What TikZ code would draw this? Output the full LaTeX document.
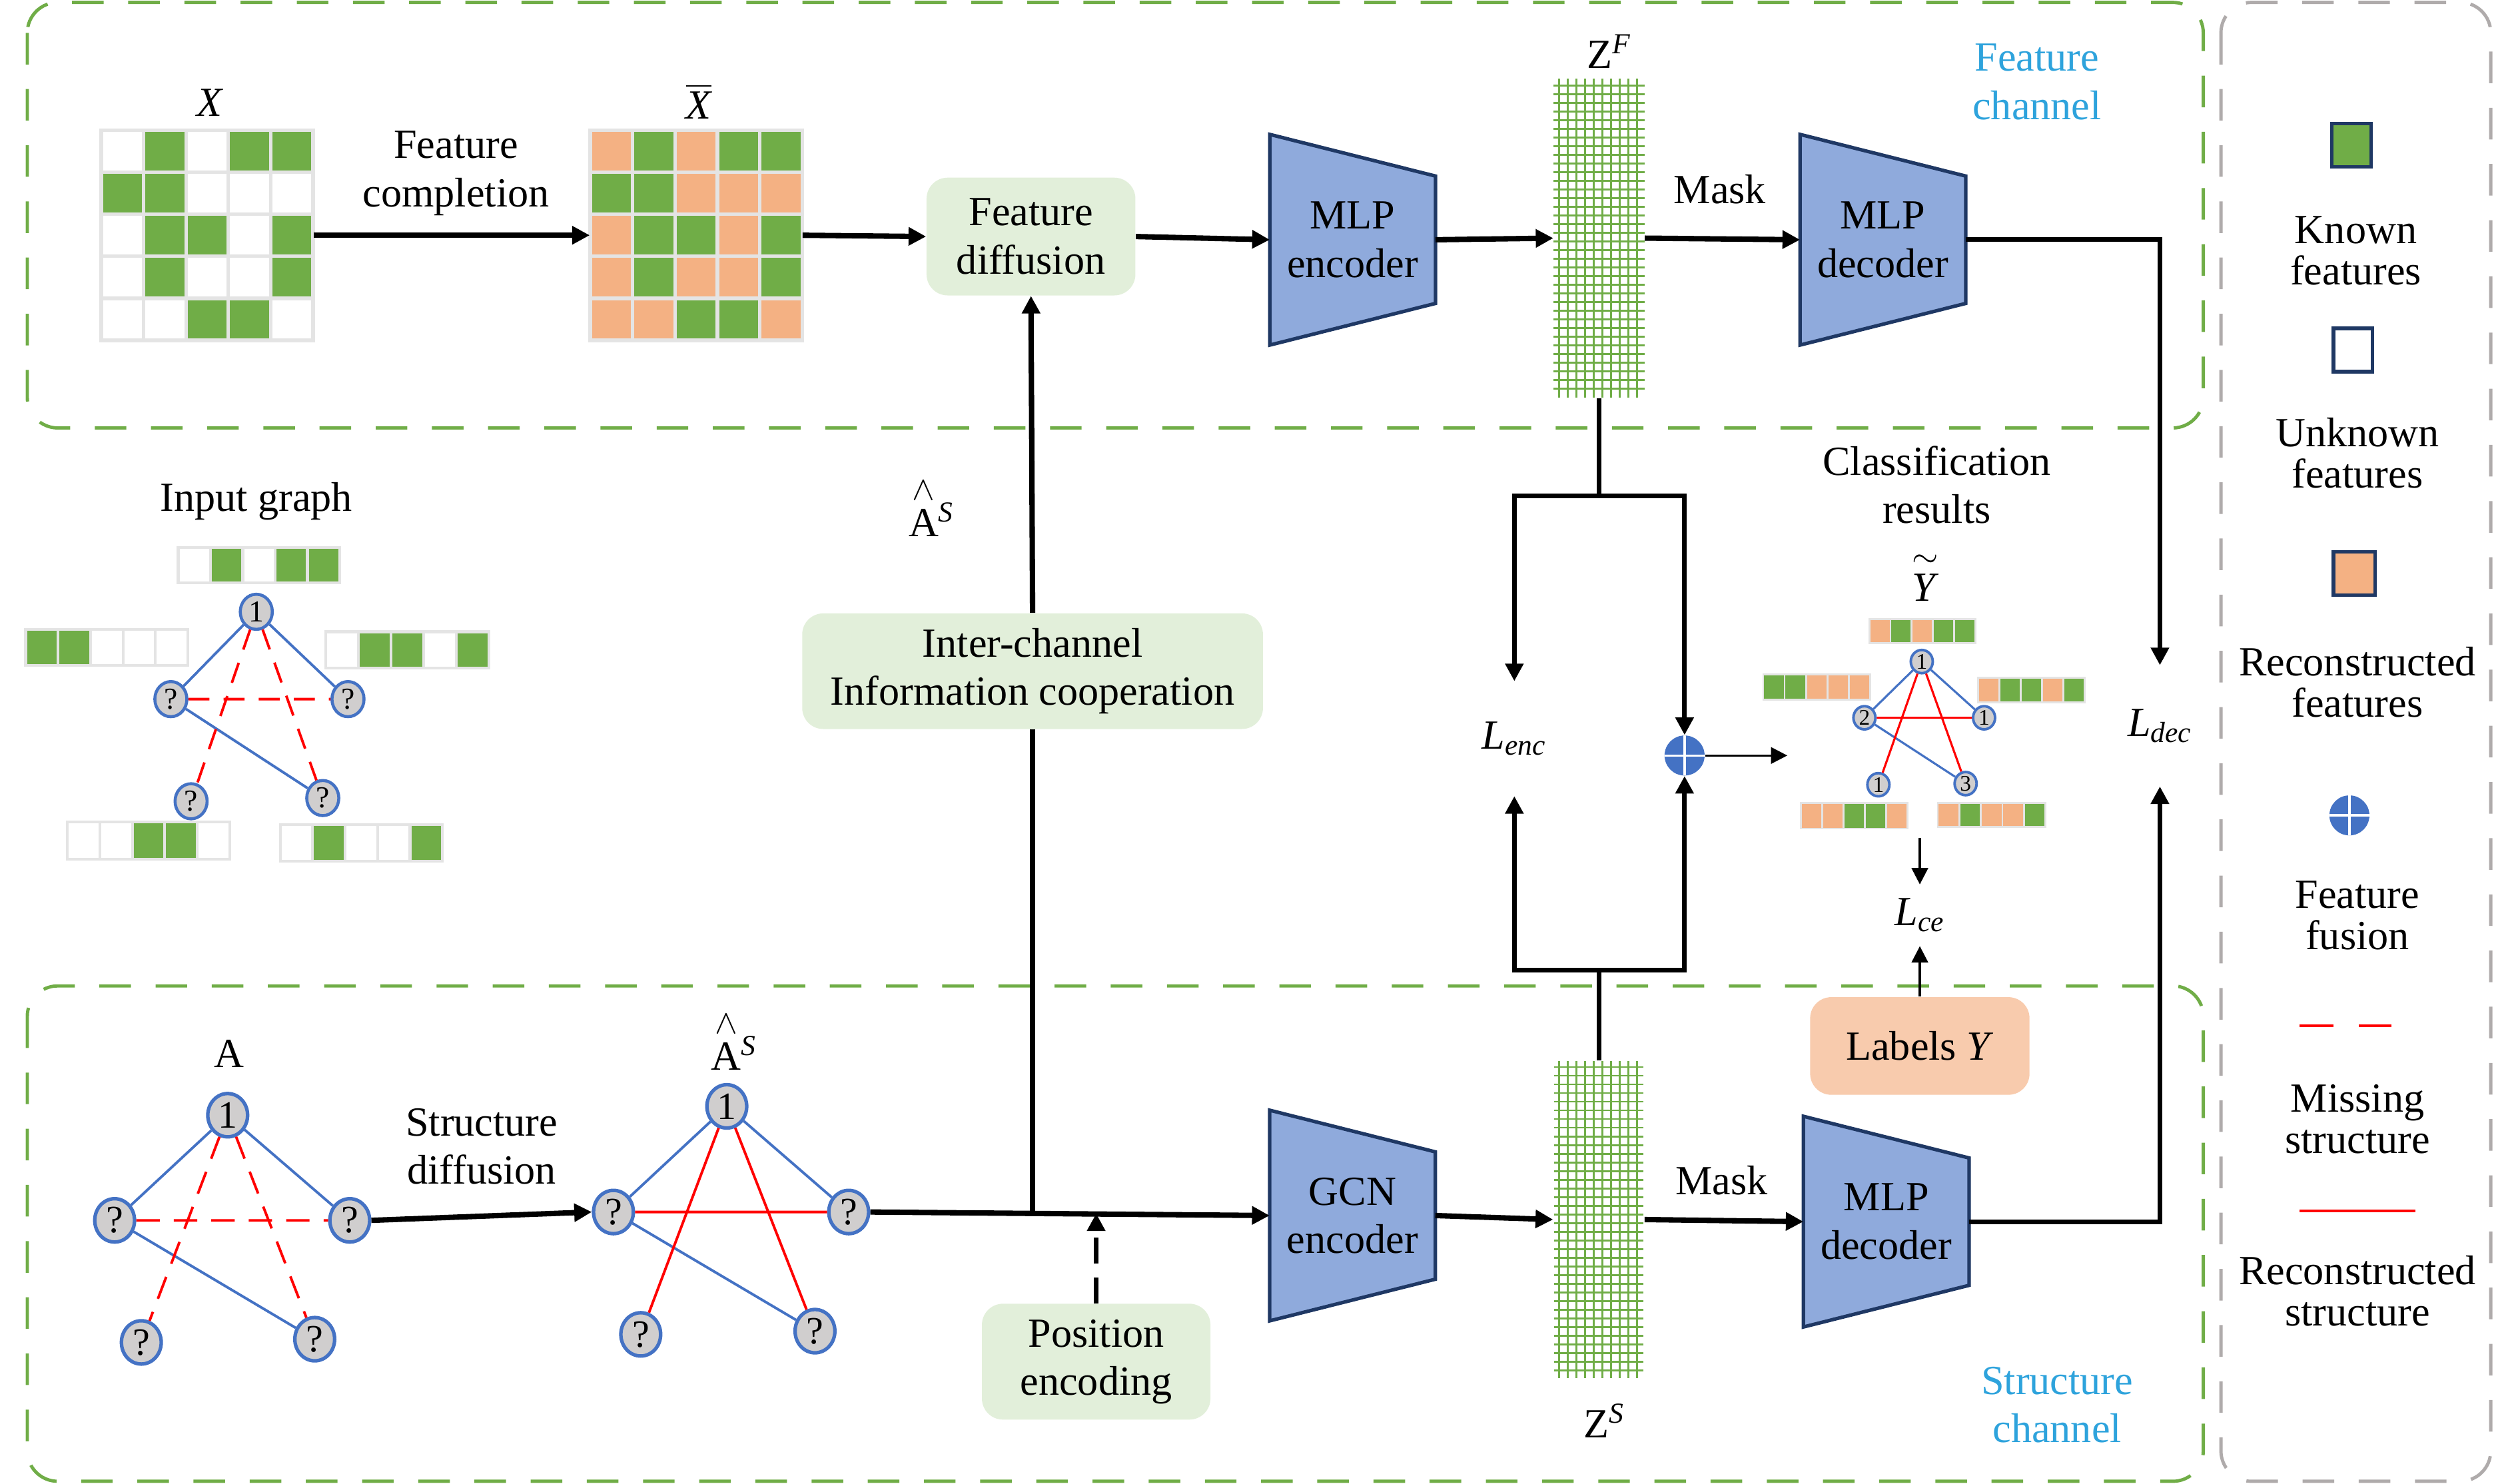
\documentclass[tikz,border=0pt]{standalone}
\usepackage{amsmath}
\usepackage{fontspec}
\setmainfont{Liberation Serif}
\usetikzlibrary{arrows.meta,backgrounds,positioning,shapes.geometric}

\definecolor{frgreen}{HTML}{70AD47}
\definecolor{leggray}{HTML}{AFABAB}
\definecolor{cellg}{HTML}{70AD47}
\definecolor{cello}{HTML}{F4B183}
\definecolor{cellw}{HTML}{FFFFFF}
\definecolor{cellline}{HTML}{E4E4E4}
\definecolor{trapfill}{HTML}{8FAADC}
\definecolor{trapline}{HTML}{1F3864}
\definecolor{boxgreen}{HTML}{E2EFDA}
\definecolor{boxorange}{HTML}{F8CBAD}
\definecolor{nodegray}{HTML}{D0CECE}
\definecolor{edgeblue}{HTML}{4472C4}
\definecolor{edgered}{HTML}{FF0000}
\definecolor{chancyan}{HTML}{2EA3DC}

% one row of feature cells: [line width]{x}{y}{cell w}{cell h}{colours}
\newcommand{\cellrow}[6][1.2pt]{%
  \foreach \cl [count=\ci from 0] in {#6}
    \draw[draw=cellline, line width=#1, fill=cell\cl] ({#2+\ci*#4},#3) rectangle ++(#4,#5);
}
% accent set apart above a letter
\newcommand{\hatA}{\shortstack{{\fontsize{14}{14}\selectfont$\wedge$}\\[1pt]A}\textsuperscript{\textit{S}}}
\newcommand{\tildeY}{\shortstack{{\fontsize{14}{14}\selectfont$\sim$}\\[0pt]\textit{Y}}}

\tikzset{
  chanframe/.style={draw=frgreen, line width=1.4pt, dash pattern=on 13.5pt off 10.5pt, rounded corners=13pt},
  legframe/.style={chanframe, draw=leggray},
  flowarrow/.style={line width=2.3pt, -{Triangle[length=7.5pt,width=7.5pt]}},
  flowline/.style={line width=2.3pt},
  looparrow/.style={line width=2pt, -{Triangle[length=7.5pt,width=7.5pt]}},
  loopline/.style={line width=2pt},
  thinarrow/.style={line width=0.9pt, -{Triangle[length=7pt,width=7pt]}},
  dasharrow/.style={line width=2pt, dash pattern=on 11pt off 6pt, -{Triangle[length=7.5pt,width=7.5pt]}},
  greenbox/.style={fill=boxgreen, rounded corners=9pt, inner sep=0pt},
  labelbox/.style={fill=boxorange, rounded corners=9pt, inner sep=0pt},
  trapnode/.style={minimum width=70.4pt, minimum height=89.6pt, inner sep=0pt},
  trapez/.style={fill=trapfill, draw=trapline, line width=1.5pt},
  matnode/.style={inner sep=0pt, minimum width=90.5pt, minimum height=89.8pt},
  zgridnode/.style={inner sep=0pt, minimum width=38.7pt, minimum height=136.2pt},
  zline/.style={draw=frgreen, line width=0.8pt},
  gnode/.style={ellipse, draw=edgeblue, fill=nodegray, inner sep=0pt},
  ignode/.style={gnode, line width=1.3pt, minimum width=13.7pt, minimum height=15pt, font=\fontsize{13}{13}\selectfont},
  anode/.style={gnode, line width=1.5pt, minimum width=17pt, minimum height=18.5pt, font=\fontsize{16.5}{16.5}\selectfont},
  cnode/.style={gnode, line width=1.1pt, minimum width=9.4pt, minimum height=9.9pt, font=\fontsize{9.5}{9.5}\selectfont},
  knownedge/.style={draw=edgeblue, line width=1.1pt},
  missedge/.style={draw=edgered, line width=1.1pt, dash pattern=on 9pt off 6pt},
  recedge/.style={draw=edgered, line width=1.1pt},
  fusion/.style={circle, fill=edgeblue, minimum size=17.1pt, inner sep=0pt,
    path picture={\draw[white, line width=1pt] (path picture bounding box.north) -- (path picture bounding box.south)
      (path picture bounding box.west) -- (path picture bounding box.east);}},
  lossnode/.style={inner sep=0pt},
  chantext/.style={text=chancyan},
  legtext/.style={font=\fontsize{17.7}{17.6}\selectfont},
  legbox/.style={draw=trapline, line width=1.5pt, minimum width=16.7pt, minimum height=18.5pt, inner sep=0pt},
}

\begin{document}
\begin{tikzpicture}[x=0.24107mm, y=-0.24107mm, every node/.style={font=\fontsize{17.7}{20.6}\selectfont, align=center}]
  \useasboundingbox (0,0) rectangle (1568,924);

  % frames
  \draw[chanframe] (17,1.5) rectangle (1372,266.5);
  \draw[chanframe] (17,614) rectangle (1372,922.5);
  \draw[legframe] (1383,1.5) rectangle (1551,922.5);

  % feature channel
  \node (xlab) at (131,64) {\textit{X}};
  \node[matnode] (xmat) at (129,146.5) {};
  \foreach \r/\pat in {0/{w,g,w,g,g},1/{g,g,w,w,w},2/{w,g,g,w,g},3/{w,g,w,w,g},4/{w,w,g,g,w}}
    \foreach \cl [count=\ci from 0] in \pat
      \draw[draw=cellline, line width=1.5pt, fill=cell\cl] ({63+\ci*26.4},{81+\r*26.2}) rectangle ++(26.4,26.2);
  \node (xbarlab) at (435,63) {$\overline{\textit{X}}$};
  \node[matnode] (xbar) at (433.5,146.5) {};
  \foreach \r/\pat in {0/{o,g,o,g,g},1/{g,g,o,o,o},2/{o,g,g,o,g},3/{o,g,o,o,g},4/{o,o,g,g,o}}
    \foreach \cl [count=\ci from 0] in \pat
      \draw[draw=cellline, line width=1.5pt, fill=cell\cl] ({367.5+\ci*26.4},{81+\r*26.2}) rectangle ++(26.4,26.2);
  \node (fclab) at (284,108) {Feature\\completion};
  \node[greenbox, minimum width=89.2pt, minimum height=50.3pt] (fdiff) at (642,147.3) {Feature\\diffusion};
  \node[trapnode] (mlpenc) at (842.3,149.3) {MLP\\encoder};
  \node[zgridnode] (zf) at (995.75,148.3) {};
  \foreach \i in {0,...,9} \draw[zline] ({970.7+\i*5.4},49) -- ++(0,198.6);
  \foreach \j in {0,...,35} \draw[zline] (967.5,{53.2+\j*5.4}) -- ++(56.5,0);
  \node (zflab) at (1002,32) {Z\textsuperscript{\textit{F}}};
  \node (mask1) at (1071,118) {Mask};
  \node[trapnode] (mlpdec) at (1172.5,149.3) {MLP\\decoder};
  \node[chantext] (fchan) at (1268.5,51) {Feature\\channel};

  % input graph
  \node (iglab) at (159.6,312) {Input graph};
  \cellrow{111}{341}{20.1}{22}{w,g,w,g,g}
  \cellrow{16}{392}{20.2}{22.5}{g,g,w,w,w}
  \cellrow{203}{393.4}{20.3}{22.6}{w,g,g,w,g}
  \cellrow{42}{512}{20.2}{23}{w,w,g,g,w}
  \cellrow{174.5}{513.6}{20.2}{22.8}{w,g,w,w,g}
  \node[ignode] (i1) at (159.6,381) {1};
  \node[ignode] (il) at (106.4,435.4) {?};
  \node[ignode] (ir) at (216.7,435.4) {?};
  \node[ignode] (ibl) at (119,499) {?};
  \node[ignode] (ibr) at (201,497) {?};
  \draw[knownedge] (i1) -- (il) (i1) -- (ir) (il) -- (ibr);
  \draw[missedge] (il) -- (ir) (i1) -- (ibl) (i1) -- (ibr);

  % inter-channel cooperation
  \node (hatlab) at (580,317) {\hatA};
  \node[greenbox, minimum width=196.8pt, minimum height=49.4pt] (ic) at (643,418) {Inter-channel\\Information cooperation};

  % losses and fusion
  \node[lossnode, minimum height=48.7pt] (lenc) at (943,460) {\textit{L}\textsubscript{\textit{enc}}};
  \node[fusion] (fuse) at (1049,470.5) {};
  \node[lossnode, minimum height=51.4pt] (ldec) at (1345,452) {\textit{L}\textsubscript{\textit{dec}}};
  \node[lossnode, minimum height=26pt] (lce) at (1195.5,570) {\textit{L}\textsubscript{\textit{ce}}};

  % classification results
  \node (clslab) at (1206,302) {Classification\\results};
  \node (ytlab) at (1199,360) {\tildeY};
  \cellrow[0.8pt]{1164}{385.6}{13.2}{15}{o,g,o,g,g}
  \cellrow[0.8pt]{1098}{420}{13.3}{15.8}{g,g,o,o,o}
  \cellrow[0.8pt]{1231.8}{421.9}{13.3}{15.6}{o,g,g,o,g}
  \cellrow[0.8pt]{1121.3}{500}{13.3}{16}{o,o,g,g,o}
  \cellrow[0.8pt]{1206.7}{500}{13.4}{15}{o,g,o,o,g}
  \node[cnode] (c1) at (1196.7,412) {1};
  \node[cnode] (c2) at (1161,447) {2};
  \node[cnode] (cr) at (1235.5,447) {1};
  \node[cnode] (cbl) at (1169.7,488.7) {1};
  \node[cnode] (cbr) at (1224,488) {3};
  \draw[knownedge, line width=0.9pt] (c1) -- (c2) (c1) -- (cr) (c2) -- (cbr);
  \draw[recedge, line width=0.9pt] (c1) -- (cbl) (c1) -- (cbr) (c2) -- (cr);

  % structure channel
  \node (alab) at (142.6,656) {A};
  \node[anode] (a1) at (141.8,694.5) {1};
  \node[anode] (al) at (71.4,760) {?};
  \node[anode] (ar) at (217.8,760) {?};
  \node[anode] (abl) at (88,836) {?};
  \node[anode] (abr) at (196,834) {?};
  \draw[knownedge] (a1) -- (al) (a1) -- (ar) (al) -- (abr);
  \draw[missedge, dash pattern=on 10pt off 6pt] (al) -- (ar) (a1) -- (abl) (a1) -- (abr);
  \node (sdlab) at (300,714) {Structure\\diffusion};
  \node (hatlab2) at (457,649) {\hatA};
  \node[anode] (h1) at (452.6,689) {1};
  \node[anode] (hl) at (382,754.8) {?};
  \node[anode] (hr) at (528.5,754.8) {?};
  \node[anode] (hbl) at (399,831) {?};
  \node[anode] (hbr) at (507.5,829) {?};
  \draw[knownedge] (h1) -- (hl) (h1) -- (hr) (hl) -- (hbr);
  \draw[recedge] (hl) -- (hr) (h1) -- (hbl) (h1) -- (hbr);
  \node[greenbox, minimum width=97.6pt, minimum height=49.5pt] (pe) at (682.6,848) {Position\\encoding};
  \node[trapnode] (gcnenc) at (842.2,757) {GCN\\encoder};
  \node[zgridnode, minimum height=135.4pt] (zs) at (995.6,759.5) {};
  \foreach \i in {0,...,9} \draw[zline] ({970.7+\i*5.4},660.8) -- ++(0,197.5);
  \foreach \j in {0,...,35} \draw[zline] (967.8,{664.5+\j*5.4}) -- ++(55.6,0);
  \node (zslab) at (999,885) {Z\textsuperscript{\textit{S}}};
  \node (mask2) at (1072,735) {Mask};
  \node[trapnode] (gcndec) at (1174.6,760.8) {MLP\\decoder};
  \node[labelbox, minimum width=93.7pt, minimum height=41.7pt] (lab) at (1195.5,651.4) {Labels \textit{Y}};
  \node[chantext] (schan) at (1281,875) {Structure\\channel};

  % trapezoids behind their labels
  \begin{scope}[on background layer]
    \foreach \t in {mlpenc,mlpdec,gcnenc,gcndec}
      \draw[trapez] (\t.north west) -- ([yshift=-17.8pt]\t.north east)
        -- ([yshift=17.8pt]\t.south east) -- (\t.south west) -- cycle;
  \end{scope}

  % feature flow
  \draw[flowarrow] (xmat.east) -- (xbar.west);
  \draw[flowarrow] (xbar.east) -- (fdiff.west);
  \draw[flowarrow] (fdiff.east) -- (mlpenc.west);
  \draw[flowarrow] (mlpenc.east) -- (zf.west);
  \draw[flowarrow] (zf.east) -- (mlpdec.west);
  \draw[looparrow] (mlpdec.east) -| (ldec.north);

  % structure flow
  \draw[flowarrow] (ar.east) -- (hl.west);
  \draw[flowarrow] (hr.east) -- (gcnenc.west);
  \coordinate (junc) at (643,755.7);
  \draw[flowline] (junc) -- (ic.south);
  \draw[flowarrow] (ic.north) -- (fdiff.south);
  \draw[dasharrow] (pe.north) -- (pe.north |- junc);
  \draw[flowarrow] (gcnenc.east) -- (zs.west);
  \draw[flowarrow] (zs.east) -- (gcndec.west);
  \draw[looparrow] (gcndec.east) -| (ldec.south);

  % encoder losses and fusion
  \coordinate (fsplit) at (995.75,309);
  \draw[loopline] (zf.south) -- (fsplit);
  \draw[looparrow] (fsplit) -| (lenc.north);
  \draw[looparrow] (fsplit) -| (fuse.north);
  \coordinate (ssplit) at (995.6,604);
  \draw[loopline] (zs.north) -- (ssplit);
  \draw[looparrow] (ssplit) -| (lenc.south);
  \draw[looparrow] (ssplit) -| (fuse.south);
  \coordinate (yin) at (1113,470.5);
  \draw[thinarrow] (fuse.east) -- (yin);
  \coordinate (yout) at (1195.5,522);
  \draw[thinarrow] (yout) -- (lce.north);
  \draw[thinarrow] (lab.north) -- (lce.south);

  % legend
  \node[legbox, fill=cellg] (lgknown) at (1464.2,90.5) {};
  \node[legtext] (ltknown) at (1467,156) {Known\\features};
  \node[legbox, fill=white] (lgunknown) at (1465.2,218) {};
  \node[legtext] (ltunknown) at (1468,282) {Unknown\\features};
  \node[legbox, fill=cello, minimum width=17.8pt] (lgrec) at (1466,357) {};
  \node[legtext] (ltrec) at (1468,425) {Reconstructed\\features};
  \node[fusion] (lgfuse) at (1463,507.8) {};
  \node[legtext] (ltfuse) at (1468,570) {Feature\\fusion};
  \draw[missedge, dash pattern=on 14.4pt off 11pt] (1432,638.8) -- (1489,638.8);
  \node[legtext] (ltmiss) at (1468,697) {Missing\\structure};
  \draw[recedge] (1432,754) -- (1504,754);
  \node[legtext] (ltrecs) at (1468,804) {Reconstructed\\structure};
\end{tikzpicture}
\end{document}
